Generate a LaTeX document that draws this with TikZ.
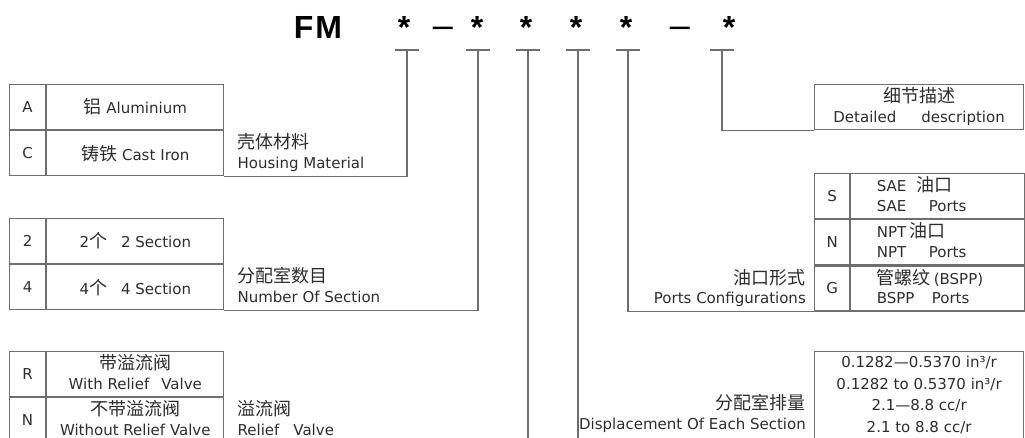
\documentclass[tikz,border=0pt]{standalone}
\usepackage{fontspec}
\setmainfont{DejaVu Sans}
\newfontfamily\cjk{Noto Sans CJK SC}
\newfontfamily\headfont{Liberation Sans}
\usepackage{tikz}
\usetikzlibrary{positioning}
\definecolor{linegray}{RGB}{110,110,110}
\definecolor{inkgray}{RGB}{45,45,45}
\newcommand{\zh}[1]{{\cjk\fontsize{18}{19}\selectfont #1}}
\newcommand{\lowstrut}{\rule[-4.5pt]{0pt}{4.5pt}}
\tikzstyle{keycell} = [rectangle, draw=linegray, line width=1.2pt, minimum width=36pt, minimum height=45pt, inner sep=0pt, text=inkgray, font=\fontsize{15}{19.5}\selectfont]
\tikzstyle{valcell} = [keycell, minimum width=177pt, align=center]
\tikzstyle{portcell} = [keycell, minimum width=174pt, text width=122pt, align=left]
\tikzstyle{caption} = [text=inkgray, font=\fontsize{15}{19.5}\selectfont, inner sep=0pt]
\tikzstyle{lead} = [draw=linegray, line width=1.2pt]
\tikzstyle{head} = [text=black, font=\headfont\bfseries\fontsize{32}{32}\selectfont, anchor=base, inner sep=0pt]
\tikzstyle{headdash} = [head, font=\headfont\fontsize{36}{36}\selectfont]

\begin{document}
\begin{tikzpicture}[x=1pt, y=-1pt]
    \useasboundingbox (0,0) rectangle (1025,438);
    \clip (0,0) rectangle (1025,438);

    % model code
    \node (fm) [head] at (318,39) {F\kern2pt M};
    \node (s1) [head] at (404,39) {*};
    \node (d1) [headdash] at (443,38) {–};
    \node (s2) [head] at (477,39) {*};
    \node (s3) [head] at (526,39) {*};
    \node (s4) [head] at (576,39) {*};
    \node (s5) [head] at (626,39) {*};
    \node (d2) [headdash] at (680,38) {–};
    \node (s6) [head] at (729,39) {*};

    \coordinate (t1) at (407,50);
    \coordinate (t2) at (478,50);
    \coordinate (t3) at (528,50);
    \coordinate (t4) at (578,50);
    \coordinate (t5) at (628,50);
    \coordinate (t6) at (722,50);
    \coordinate (e3) at (528,450);
    \coordinate (e4) at (578,450);
    \foreach \t in {t1,t2,t3,t4,t5,t6}
        \draw [lead] ([xshift=-12pt]\t) -- ([xshift=12pt]\t);

    % housing material
    \node (keyA) [keycell, anchor=north west] at (9,84) {A};
    \node (valA) [valcell, right=0pt of keyA] {\zh{铝} Aluminium};
    \node (keyC) [keycell, below=0pt of keyA] {C};
    \node (valC) [valcell, right=0pt of keyC] {\zh{铸铁} Cast\hspace{5pt}Iron};
    \node (house) [caption, right=13pt of valC, align=left] {\zh{壳体材料}\\Housing Material\lowstrut};

    % number of section
    \node (keyTwo) [keycell, anchor=north west] at (9,218) {2};
    \node (valTwo) [valcell, right=0pt of keyTwo] {2\zh{个}\hspace{14pt}2 Section};
    \node (keyFour) [keycell, below=0pt of keyTwo] {4};
    \node (valFour) [valcell, right=0pt of keyFour] {4\zh{个}\hspace{14pt}4 Section};
    \node (sect) [caption, right=13pt of valFour, align=left] {\zh{分配室数目}\\Number Of Section\lowstrut};

    % relief valve
    \node (keyR) [keycell, anchor=north west] at (9,351) {R};
    \node (valR) [valcell, right=0pt of keyR] {\zh{带溢流阀}\\With Relief\hspace{12pt}Valve\lowstrut};
    \node (keyN) [keycell, below=0pt of keyR] {N};
    \node (valN) [valcell, right=0pt of keyN] {\zh{不带溢流阀}\\Without Relief Valve\lowstrut};
    \node (relief) [caption, right=13pt of valN, align=left] {\zh{溢流阀}\\Relief\hspace{14pt}Valve\lowstrut};

    % detailed description
    \node (detail) [keycell, anchor=north west, minimum width=209pt, align=center] at (814,84) {\zh{细节描述}\\Detailed\hspace{25pt}description\lowstrut};

    % ports configurations
    \node (keyS) [keycell, anchor=north west, minimum width=35pt] at (814,173) {S};
    \node (valS) [portcell, right=0pt of keyS] {SAE\hspace{10pt}\zh{油口}\\\makebox[52pt][l]{SAE}Ports\lowstrut};
    \node (keyNpt) [keycell, below=0pt of keyS, minimum width=35pt] {N};
    \node (valNpt) [portcell, right=0pt of keyNpt] {NPT\hspace{3pt}\zh{油口}\\\makebox[52pt][l]{NPT}Ports\lowstrut};
    \node (keyG) [keycell, below=0pt of keyNpt, minimum width=35pt] {G};
    \node (valG) [portcell, right=0pt of keyG] {\zh{管螺纹}\hspace{3pt}(BSPP)\\\makebox[55pt][l]{BSPP}Ports\lowstrut};
    \node (ports) [caption, left=8pt of keyG, align=right] {\zh{油口形式}\\Ports Configurations\lowstrut};

    % displacement
    \node (disp) [keycell, anchor=north west, minimum width=209pt, minimum height=100pt] at (814,351) {};
    \node (dispval) [caption, align=center, below=5pt of disp.north, font=\fontsize{15}{21.7}\selectfont] {0.1282—0.5370 in³/r\\0.1282 to 0.5370 in³/r\\2.1—8.8 cc/r\\2.1 to 8.8 cc/r};
    \node (displab) [caption, anchor=east, align=right] at (806,414) {\zh{分配室排量}\\Displacement Of Each Section\lowstrut};

    \draw [lead] (t1) |- (valC.south east);
    \draw [lead] (t2) |- (valFour.south east);
    \draw [lead] (t3) -- (e3);
    \draw [lead] (t4) -- (e4);
    \draw [lead] (t5) |- (keyG.south west);
    \draw [lead] (t6) |- (detail.south west);
\end{tikzpicture}
\end{document}
